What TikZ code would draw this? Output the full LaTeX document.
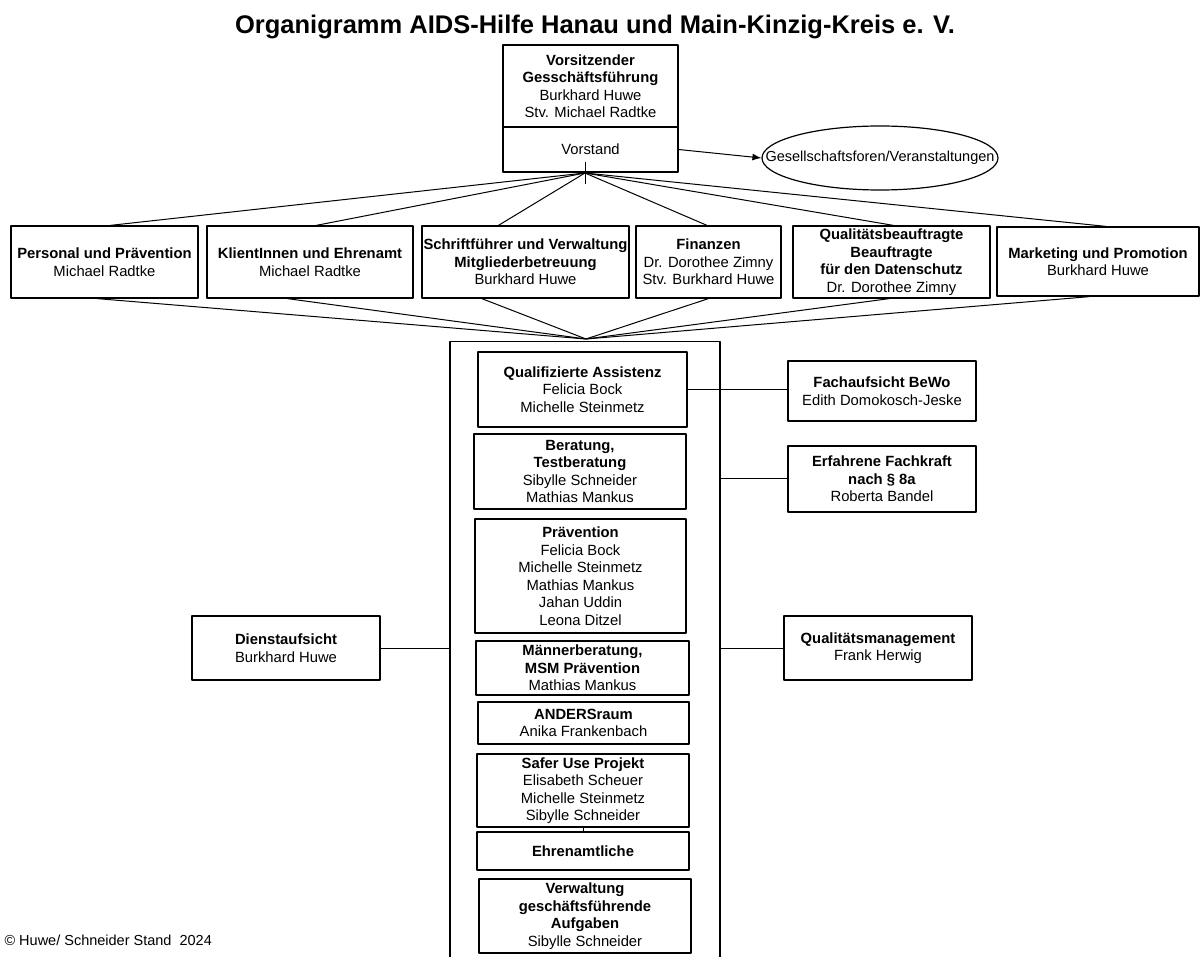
\documentclass[tikz,border=0pt]{standalone}
\usepackage{fontspec}
\setmainfont{Liberation Sans}
\usetikzlibrary{arrows.meta,calc,shapes.geometric}
\begin{document}
\begin{tikzpicture}[
	x=1pt,
	y=-1pt,
	line join=round,
	>={Latex[length=9pt,width=7pt]},
	unit/.style={draw, line width=1.2pt, inner sep=0pt, align=center, font=\fontsize{14.8}{17.5}\selectfont},
	link/.style={line width=1pt},
	]
\useasboundingbox (0,0) rectangle (1203,957);
\node[font=\bfseries\fontsize{25.5}{30}\selectfont] (title) at (595,27) {Organigramm AIDS-Hilfe Hanau und Main-Kinzig-Kreis e. V.};
\node[unit, minimum width=175pt, minimum height=82pt] (chef) at (590.5,86) {\textbf{Vorsitzender}\\\textbf{Gesschäftsführung}\\Burkhard Huwe\\Stv. Michael Radtke};
\node[unit, minimum width=175pt, minimum height=45pt] (vorstand) at (590.5,149.5) {Vorstand};
\node[ellipse, draw, line width=1.2pt, inner sep=0pt, minimum width=236pt, minimum height=64pt] (forum) at (880,158) {\makebox[0pt]{\fontsize{14.5}{17}\selectfont Gesellschaftsforen/Veranstaltungen}};
\node[unit, minimum width=187pt, minimum height=72pt] (b1) at (104.5,262) {\textbf{Personal und Prävention}\\Michael Radtke};
\node[unit, minimum width=206pt, minimum height=72pt] (b2) at (310,262) {\textbf{KlientInnen und Ehrenamt}\\Michael Radtke};
\node[unit, minimum width=207pt, minimum height=72pt] (b3) at (525.5,262) {\textbf{Schriftführer und Verwaltung}\\\textbf{Mitgliederbetreuung}\\Burkhard Huwe};
\node[unit, minimum width=145pt, minimum height=72pt] (b4) at (708.5,262) {\textbf{Finanzen}\\Dr. Dorothee Zimny\\Stv. Burkhard Huwe};
\node[unit, minimum width=197pt, minimum height=72pt] (b5) at (891.5,262) {\textbf{Qualitätsbeauftragte}\\\textbf{Beauftragte}\\\textbf{für den Datenschutz}\\Dr. Dorothee Zimny};
\node[unit, minimum width=202pt, minimum height=69pt] (b6) at (1098,261.5) {\textbf{Marketing und Promotion}\\Burkhard Huwe};
\node[draw, line width=1.2pt, minimum width=270pt, minimum height=622pt, anchor=north] (team) at (585,341) {};
\node[unit, minimum width=209pt, minimum height=75pt] (qa) at (582.5,389.5) {\textbf{Qualifizierte Assistenz}\\Felicia Bock\\Michelle Steinmetz};
\node[unit, minimum width=212pt, minimum height=75pt] (ber) at (580,471.5) {\textbf{Beratung,}\\\textbf{Testberatung}\\Sibylle Schneider\\Mathias Mankus};
\node[unit, minimum width=211pt, minimum height=114pt] (prae) at (580.5,576) {\textbf{Prävention}\\Felicia Bock\\Michelle Steinmetz\\Mathias Mankus\\Jahan Uddin\\Leona Ditzel};
\node[unit, minimum width=213pt, minimum height=54pt] (maenner) at (582.5,668) {\textbf{Männerberatung,}\\\textbf{MSM Prävention}\\Mathias Mankus};
\node[unit, minimum width=211pt, minimum height=42pt] (anders) at (583.5,723) {\textbf{ANDERSraum}\\Anika Frankenbach};
\node[unit, minimum width=212pt, minimum height=73pt] (safer) at (583,790.5) {\textbf{Safer Use Projekt}\\Elisabeth Scheuer\\Michelle Steinmetz\\Sibylle Schneider};
\node[unit, minimum width=212pt, minimum height=38pt] (ehren) at (583,851) {\textbf{Ehrenamtliche}};
\node[unit, minimum width=212pt, minimum height=74pt] (verw) at (585,916) {\textbf{Verwaltung}\\\textbf{geschäftsführende}\\\textbf{Aufgaben}\\Sibylle Schneider};
\node[unit, minimum width=188pt, minimum height=60pt] (fach) at (882,391) {\textbf{Fachaufsicht BeWo}\\Edith Domokosch-Jeske};
\node[unit, minimum width=188pt, minimum height=66pt] (erf) at (882,479) {\textbf{Erfahrene Fachkraft}\\\textbf{nach § 8a}\\Roberta Bandel};
\node[unit, minimum width=188pt, minimum height=64pt] (qm) at (878,648) {\textbf{Qualitätsmanagement}\\Frank Herwig};
\node[unit, minimum width=188pt, minimum height=64pt] (dienst) at (286,648) {\textbf{Dienstaufsicht}\\Burkhard Huwe};
\node[anchor=west, font=\fontsize{14.5}{17}\selectfont] (stand) at (1,940) {© Huwe/ Schneider Stand\ \ 2024};
\coordinate (vtop) at (585,173);
\coordinate (vbot) at (586,339);
\foreach \b/\t/\u in {b1/0.53/0.46, b2/0.53/0.39, b3/0.37/0.29, b4/0.49/0.50, b5/0.51/0.49, b6/0.54/0.46}
	{
	\draw[link] (vtop) -- ($(\b.north west)!\t!(\b.north east)$);
	\draw[link] (vbot) -- ($(\b.south west)!\u!(\b.south east)$);
	}
\draw[link] ([yshift=11pt]vtop) -- ([yshift=-11pt]vtop);
\draw[link,->] (vorstand.east) -- (forum.west);
\draw[link] (qa.east) -- (qa.east -| fach.west);
\draw[link] (team.east |- erf.west) -- (erf.west);
\draw[link] (team.east |- qm.west) -- (qm.west);
\draw[link] (dienst.east) -- (dienst.east -| team.west);
\draw[link] (safer.south) -- (safer.south |- ehren.north);
\end{tikzpicture}
\end{document}
